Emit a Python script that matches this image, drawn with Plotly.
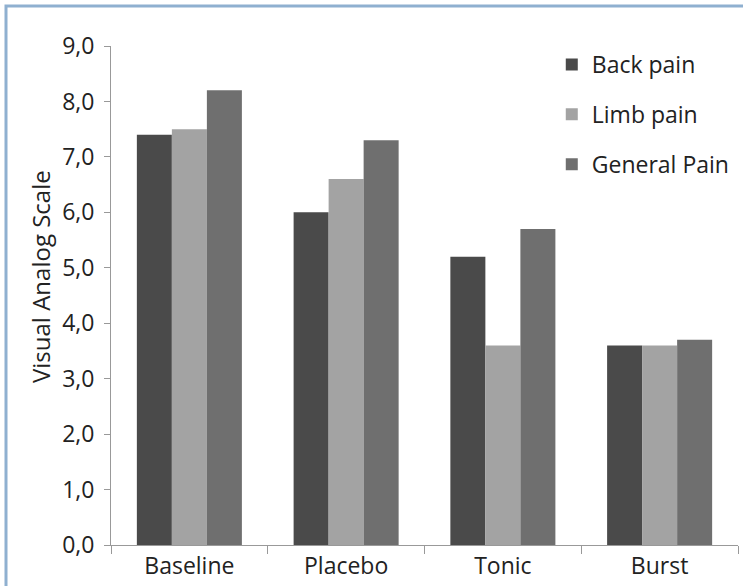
import plotly.graph_objects as go

categories = ["Baseline", "Placebo", "Tonic", "Burst"]
series_names = ["Back pain", "Limb pain", "General Pain"]
back_pain = [7.4, 6.0, 5.2, 3.6]
limb_pain = [7.5, 6.6, 3.6, 3.6]
general_pain = [8.2, 7.3, 5.7, 3.7]
y_ticks = [0, 1, 2, 3, 4, 5, 6, 7, 8, 9]
y_title = "Visual Analog Scale"

colors = ["#4a4a4a", "#a3a3a3", "#6f6f6f"]
values = [back_pain, limb_pain, general_pain]

fig = go.Figure()
for i, (name, vals) in enumerate(zip(series_names, values)):
    fig.add_trace(go.Bar(x=categories, y=vals, name=name, marker_color=colors[i],
                         marker_line_width=0, legendgroup=name))

W, H = 743, 586
L, R, T, B = 111, 5, 46, 41
pw = W - L - R
ph = H - T - B

fig.update_layout(
    width=W, height=H,
    margin=dict(l=L, r=R, t=T, b=B),
    paper_bgcolor="white", plot_bgcolor="white",
    barmode="group", bargap=0.33, bargroupgap=0,
    separators=",.",
    font=dict(family="Open Sans, DejaVu Sans, sans-serif", size=23, color="#222"),
    legend=dict(x=0.703, y=1.006, xanchor="left", yanchor="top",
                font=dict(size=23, color="#222"), tracegroupgap=17,
                traceorder="grouped", bgcolor="rgba(0,0,0,0)", itemwidth=30),
    yaxis=dict(range=[0, 9], tickvals=y_ticks, tickformat=".1f",
               tickfont=dict(size=23),
               showgrid=False, zeroline=False, showline=True, linecolor="#999",
               linewidth=1, ticks="outside", ticklen=6, tickcolor="#999",
               ticklabelstandoff=5),
    xaxis=dict(showgrid=False, showline=True, linecolor="#999", linewidth=1,
               tickfont=dict(size=23),
               ticks="outside", ticklen=8, tickcolor="#999", tickson="boundaries"),
    showlegend=True,
)

# y-axis title as a rotated annotation (positioned like the reference)
fig.add_annotation(text=y_title, xref="paper", yref="paper",
                   x=(40 - L) / pw, y=(H - B - 277) / ph,
                   xanchor="center", yanchor="middle", textangle=-90,
                   showarrow=False, font=dict(size=24, color="#222"))

# light blue frame around the chart
x0 = (6 - L) / pw
y1 = 1 + (T - 6) / ph
fig.add_shape(type="rect", xref="paper", yref="paper",
              x0=x0, x1=1 + (R + 10) / pw, y0=-(B + 10) / ph, y1=y1,
              line=dict(color="#8fb0d0", width=3), fillcolor="rgba(0,0,0,0)", layer="below")

fig.write_html("out.html")
